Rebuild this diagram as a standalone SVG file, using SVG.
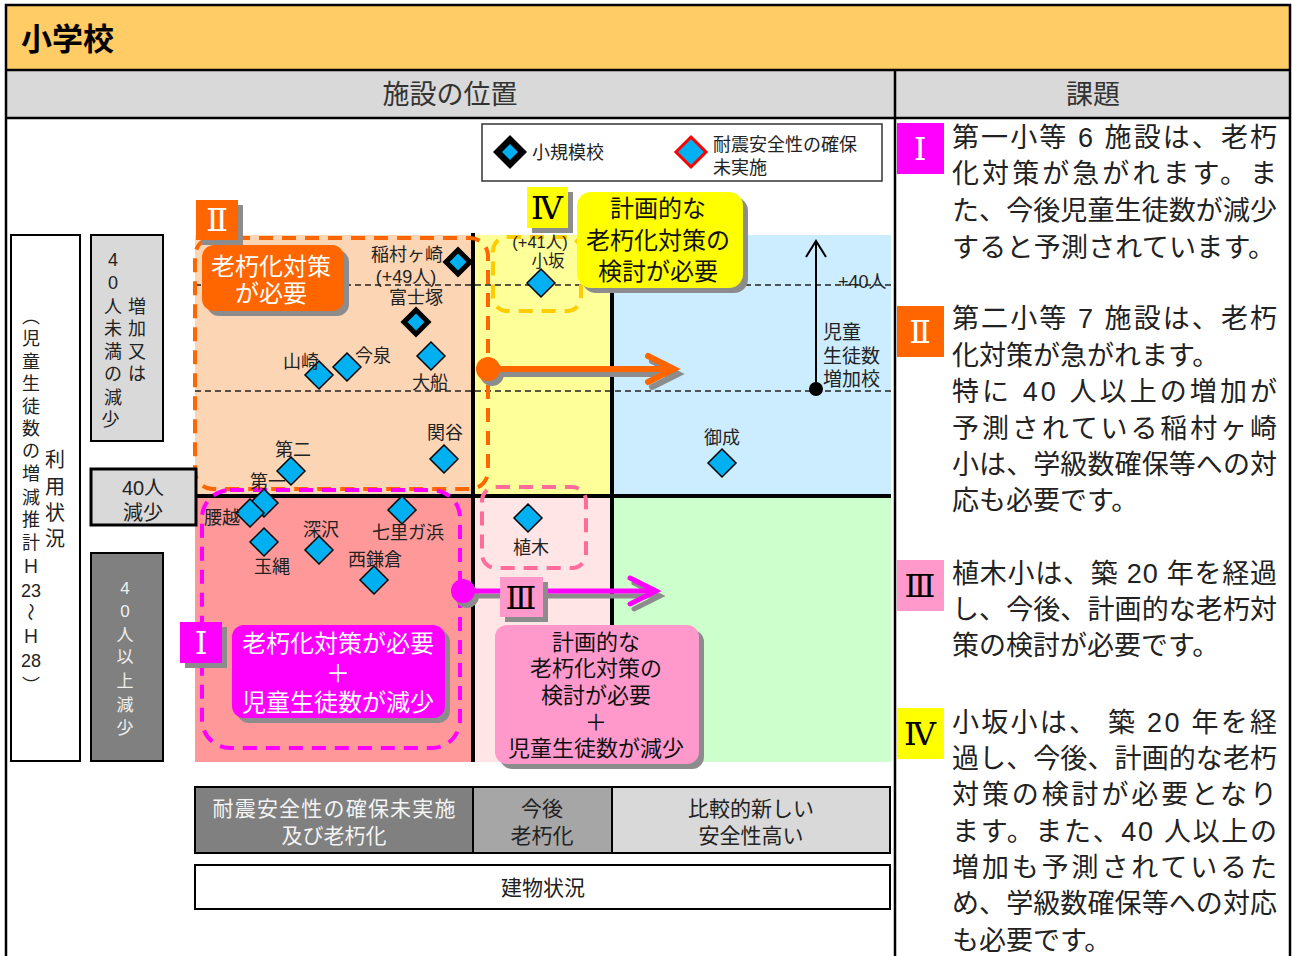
<svg xmlns="http://www.w3.org/2000/svg" width="1292" height="956" viewBox="0 0 1292 956">
<style>
.t{font-family:"Liberation Sans","Noto Sans CJK JP","Noto Sans CJK SC",sans-serif;fill:#222}
.lab{font-size:18px;text-anchor:middle}
.mid{text-anchor:middle}
.dia{fill:#00B0F0;stroke:#000;stroke-width:1.5}
.diab{fill:#00B0F0;stroke:#000;stroke-width:5}
.dash{stroke:#222;stroke-width:1.5;stroke-dasharray:6 4;fill:none}
.grid{stroke:#000;stroke-width:4}
.sh{fill:#8c8c8c}
.rn{font-family:"DejaVu Serif","Liberation Serif","Noto Sans CJK JP",serif;font-size:32px;text-anchor:middle}
.body{font-size:27px;fill:#222}
.box{stroke:#000;stroke-width:2}
</style>
<defs>
<path id="d" d="M0,-14L14,0L0,14L-14,0Z"/>
<path id="db" d="M0,-12L12,0L0,12L-12,0Z"/>
</defs>
<rect x="0" y="0" width="1292" height="956" fill="#fff"/>
<!-- header -->
<g id="header">
<rect x="6" y="5" width="1284" height="65" fill="#FFCC66"/>
<rect x="6" y="70" width="1284" height="48" fill="#D9D9D9"/>
<line x1="6" y1="70" x2="1290" y2="70" stroke="#000" stroke-width="2.5"/>
<line x1="6" y1="118" x2="1290" y2="118" stroke="#000" stroke-width="2.5"/>
<line x1="895" y1="70" x2="895" y2="956" stroke="#000" stroke-width="2.5"/>
<rect x="6" y="5" width="1284" height="960" fill="none" stroke="#000" stroke-width="2.5"/>
<text class="t" x="21" y="50" font-size="31" font-weight="bold" style="fill:#000">小学校</text>
<text class="t mid" x="450" y="104" font-size="27" style="fill:#333">施設の位置</text>
<text class="t mid" x="1093" y="104" font-size="27" style="fill:#333">課題</text>
</g>
<!-- chart regions -->
<g id="regions">
<rect x="195" y="235" width="278" height="261" fill="#FCD5B5"/>
<rect x="473" y="235" width="139" height="261" fill="#FFFF99"/>
<rect x="612" y="235" width="279" height="261" fill="#CCECFF"/>
<rect x="195" y="496" width="278" height="266" fill="#FF9999"/>
<rect x="473" y="496" width="139" height="266" fill="#FFE5E5"/>
<rect x="612" y="496" width="279" height="266" fill="#CCFFCC"/>
<line class="dash" x1="195" y1="285" x2="891" y2="285"/>
<line class="dash" x1="195" y1="391" x2="891" y2="391"/>
<line class="grid" x1="473" y1="233" x2="473" y2="762"/>
<line class="grid" x1="612" y1="235" x2="612" y2="762"/>
<line class="grid" x1="195" y1="496" x2="891" y2="496"/>
</g>
<!-- dashed groupings -->
<g id="groupings" fill="none" stroke-width="4" stroke-dasharray="14 9">
<rect x="195" y="238" width="293" height="251" rx="18" stroke="#FF6600"/>
<rect x="493" y="237" width="88" height="74" rx="14" stroke="#FFCC00"/>
<rect x="202" y="490" width="258" height="258" rx="28" stroke="#FF00FF"/>
<rect x="482" y="487" width="104" height="81" rx="14" stroke="#FF6C9C"/>
</g>
<!-- legend -->
<g id="legend">
<rect x="482" y="124" width="400" height="57" fill="#fff" stroke="#333" stroke-width="1.5"/>
<path d="M510,135L527,152L510,169L493,152Z" fill="#000"/>
<path d="M510,144L518,152L510,160L502,152Z" fill="#00B0F0"/>
<text class="t" x="532" y="159" font-size="18">小規模校</text>
<path d="M691,137L706,152L691,167L676,152Z" fill="#00B0F0" stroke="#FF0000" stroke-width="3"/>
<text class="t" x="713" y="151" font-size="18">耐震安全性の確保</text>
<text class="t" x="713" y="174" font-size="18">未実施</text>
</g>
<!-- growth arrow -->
<g id="growth-axis">
<line x1="816" y1="389" x2="816" y2="242" stroke="#000" stroke-width="2"/>
<polyline points="806,257 816,241 826,257" fill="none" stroke="#000" stroke-width="2"/>
<circle cx="816" cy="389" r="7" fill="#000"/>
<text class="t" x="838" y="288" font-size="18">+40人</text>
<text class="t" x="823" y="339" font-size="19">児童</text>
<text class="t" x="823" y="363" font-size="19">生徒数</text>
<text class="t" x="823" y="386" font-size="19">増加校</text>
</g>
<!-- schools -->
<g id="node-inamuragasaki"><use href="#db" class="diab" x="458" y="262"/><text class="t lab" x="407" y="261">稲村ヶ崎</text><text class="t lab" x="406" y="283">(+49人)</text></g>
<g id="node-fujizuka"><use href="#db" class="diab" x="416" y="322"/><text class="t lab" x="416" y="304">富士塚</text></g>
<g id="node-ofuna"><use href="#d" class="dia" x="431" y="356"/><text class="t lab" x="430" y="389">大船</text></g>
<g id="node-imaizumi"><use href="#d" class="dia" x="347" y="367"/><text class="t lab" x="373" y="362">今泉</text></g>
<g id="node-yamasaki"><use href="#d" class="dia" x="319" y="375"/><text class="t lab" x="301" y="368">山崎</text></g>
<g id="node-sekiya"><use href="#d" class="dia" x="444" y="459"/><text class="t lab" x="445" y="439">関谷</text></g>
<g id="node-daini"><use href="#d" class="dia" x="291" y="471"/><text class="t lab" x="293" y="456">第二</text></g>
<g id="node-daiichi"><text class="t lab" x="268" y="488">第一</text><use href="#d" class="dia" x="264" y="503"/></g>
<g id="node-koshigoe"><use href="#d" class="dia" x="250" y="513"/><text class="t lab" x="222" y="524">腰越</text></g>
<g id="node-tamanawa"><use href="#d" class="dia" x="264" y="542"/><text class="t lab" x="272" y="573">玉縄</text></g>
<g id="node-fukasawa"><use href="#d" class="dia" x="319" y="550"/><text class="t lab" x="321" y="536">深沢</text></g>
<g id="node-shichirigahama"><use href="#d" class="dia" x="402" y="510"/><text class="t lab" x="408" y="539">七里ガ浜</text></g>
<g id="node-nishikamakura"><use href="#d" class="dia" x="374" y="580"/><text class="t lab" x="375" y="566">西鎌倉</text></g>
<g id="node-kosaka"><use href="#d" class="dia" x="541" y="283"/><text class="t mid" x="540" y="248" font-size="16.5">(+41人)</text><text class="t mid" x="548" y="267" font-size="16.5">小坂</text></g>
<g id="node-ueki"><use href="#d" class="dia" x="528" y="518"/><text class="t lab" x="531" y="554">植木</text></g>
<g id="node-onari"><use href="#d" class="dia" x="722" y="463"/><text class="t lab" x="722" y="444">御成</text></g>
<!-- connectors -->
<g id="connectors" fill="none" stroke-linecap="round">
<line x1="492" y1="374" x2="677" y2="374" stroke="#8c8c8c" stroke-width="6"/>
<polyline points="652,361 678,374 652,387" stroke="#8c8c8c" stroke-width="6"/>
<circle cx="492" cy="374" r="12" fill="#8c8c8c" stroke="none"/>
<line x1="488" y1="369" x2="673" y2="369" stroke="#FF6600" stroke-width="6"/>
<polyline points="648,356 674,369 648,382" stroke="#FF6600" stroke-width="6"/>
<circle cx="488" cy="369" r="12" fill="#FF6600" stroke="none"/>
<line x1="467" y1="596" x2="659" y2="596" stroke="#8c8c8c" stroke-width="5"/>
<polyline points="634,583 660,596 634,609" stroke="#8c8c8c" stroke-width="5"/>
<circle cx="467" cy="596" r="12" fill="#8c8c8c" stroke="none"/>
<line x1="463" y1="591" x2="655" y2="591" stroke="#FF00FF" stroke-width="5"/>
<polyline points="630,578 656,591 630,604" stroke="#FF00FF" stroke-width="5"/>
<circle cx="463" cy="591" r="12" fill="#FF00FF" stroke="none"/>
</g>
<!-- callouts -->
<g id="callout-II">
<rect class="sh" x="207" y="250" width="142" height="66" rx="12"/>
<rect x="202" y="245" width="142" height="66" rx="12" fill="#FF6600"/>
<text class="t mid" x="271" y="275" font-size="24" style="fill:#fff">老朽化対策</text>
<text class="t mid" x="271" y="302" font-size="24" style="fill:#fff">が必要</text>
<rect class="sh" x="201" y="205" width="42" height="40"/>
<rect x="196" y="200" width="42" height="40" fill="#FF6600"/>
<text class="rn" x="217" y="231" fill="#fff">Ⅱ</text>
</g>
<g id="callout-IV">
<rect class="sh" x="582" y="197" width="166" height="96" rx="14"/>
<rect x="577" y="192" width="166" height="96" rx="14" fill="#FFFF00"/>
<text class="t mid" x="658" y="217" font-size="24" style="fill:#111">計画的な</text>
<text class="t mid" x="658" y="249" font-size="24" style="fill:#111">老朽化対策の</text>
<text class="t mid" x="658" y="280" font-size="24" style="fill:#111">検討が必要</text>
<rect class="sh" x="532" y="192" width="41" height="41"/>
<rect x="527" y="187" width="41" height="41" fill="#FFFF00"/>
<text class="rn" x="547" y="219" fill="#000">Ⅳ</text>
</g>
<g id="callout-I">
<rect class="sh" x="237" y="630" width="213" height="93" rx="12"/>
<rect x="232" y="625" width="213" height="93" rx="12" fill="#FF00FF"/>
<text class="t mid" x="338" y="652" font-size="24" style="fill:#fff">老朽化対策が必要</text>
<text class="t mid" x="338" y="682" font-size="24" style="fill:#fff">＋</text>
<text class="t mid" x="338" y="711" font-size="24" style="fill:#fff">児童生徒数が減少</text>
<rect class="sh" x="185" y="627" width="42" height="41"/>
<rect x="180" y="622" width="42" height="41" fill="#FF00FF"/>
<text class="rn" x="201" y="654" fill="#fff">Ⅰ</text>
</g>
<g id="callout-III">
<rect class="sh" x="500" y="630" width="204" height="139" rx="12"/>
<rect x="495" y="625" width="204" height="139" rx="12" fill="#FF99CC"/>
<text class="t mid" x="596" y="650" font-size="22" style="fill:#111">計画的な</text>
<text class="t mid" x="596" y="676" font-size="22" style="fill:#111">老朽化対策の</text>
<text class="t mid" x="596" y="703" font-size="22" style="fill:#111">検討が必要</text>
<text class="t mid" x="596" y="730" font-size="22" style="fill:#111">＋</text>
<text class="t mid" x="596" y="756" font-size="22" style="fill:#111">児童生徒数が減少</text>
<rect class="sh" x="505" y="582" width="43" height="40"/>
<rect x="500" y="577" width="43" height="40" fill="#FF99CC"/>
<text class="rn" x="521" y="609" fill="#000">Ⅲ</text>
</g>
<!-- vertical axis labels -->
<g id="axis-y">
<rect class="box" x="11" y="235" width="69" height="526" fill="#fff"/>
<text class="t mid" font-size="18">
<tspan x="31" y="323">︵</tspan><tspan x="31" y="345">児</tspan><tspan x="31" y="368">童</tspan><tspan x="31" y="390">生</tspan><tspan x="31" y="413">徒</tspan><tspan x="31" y="435">数</tspan><tspan x="31" y="457">の</tspan><tspan x="31" y="480">増</tspan><tspan x="31" y="504">減</tspan><tspan x="31" y="526">推</tspan><tspan x="31" y="549">計</tspan><tspan x="31" y="573">Ｈ</tspan><tspan x="31" y="597">23</tspan><tspan x="31" y="643">Ｈ</tspan><tspan x="31" y="667">28</tspan><tspan x="31" y="692">︶</tspan>
</text>
<text class="t mid" font-size="18" x="31" y="619" transform="rotate(90 31 612)">～</text>
<text class="t mid" font-size="20">
<tspan x="55" y="467">利</tspan><tspan x="55" y="494">用</tspan><tspan x="55" y="520">状</tspan><tspan x="55" y="546">況</tspan>
</text>
</g>
<g id="axis-y-upper">
<rect class="box" x="91" y="235" width="72" height="206" fill="#D9D9D9"/>
<text class="t mid" font-size="18">
<tspan x="113" y="266">4</tspan><tspan x="113" y="289">0</tspan><tspan x="113" y="313">人</tspan><tspan x="113" y="335">未</tspan><tspan x="113" y="358">満</tspan><tspan x="113" y="380">の</tspan><tspan x="113" y="404">減</tspan><tspan x="113" y="426">少</tspan>
<tspan x="137" y="313">増</tspan><tspan x="137" y="335">加</tspan><tspan x="137" y="358">又</tspan><tspan x="137" y="380">は</tspan>
</text>
</g>
<g id="axis-y-middle">
<rect x="91" y="469" width="105" height="56" fill="#D9D9D9" stroke="#000" stroke-width="3"/>
<text class="t mid" x="143" y="495" font-size="20">40人</text>
<text class="t mid" x="143" y="520" font-size="20">減少</text>
</g>
<g id="axis-y-lower">
<rect class="box" x="91" y="553" width="72" height="208" fill="#808080"/>
<text class="t mid" font-size="17" style="fill:#f0f0f0">
<tspan x="125" y="594">4</tspan><tspan x="125" y="617">0</tspan><tspan x="125" y="641">人</tspan><tspan x="125" y="663">以</tspan><tspan x="125" y="687">上</tspan><tspan x="125" y="711">減</tspan><tspan x="125" y="734">少</tspan>
</text>
</g>
<!-- x axis -->
<g id="axis-x">
<rect class="box" x="195" y="787" width="278" height="66" fill="#808080"/>
<rect class="box" x="473" y="787" width="139" height="66" fill="#A6A6A6"/>
<rect class="box" x="612" y="787" width="278" height="66" fill="#D9D9D9"/>
<text class="t mid" x="334" y="816" font-size="21" textLength="243" lengthAdjust="spacing" style="fill:#f4f4f4">耐震安全性の確保未実施</text>
<text class="t mid" x="334" y="843" font-size="21" style="fill:#f4f4f4">及び老朽化</text>
<text class="t mid" x="542" y="816" font-size="21">今後</text>
<text class="t mid" x="542" y="843" font-size="21">老朽化</text>
<text class="t mid" x="751" y="816" font-size="21">比較的新しい</text>
<text class="t mid" x="751" y="843" font-size="21">安全性高い</text>
<rect class="box" x="195" y="865" width="695" height="44" fill="#fff"/>
<text class="t mid" x="543" y="895" font-size="21">建物状況</text>
</g>
<!-- issues column -->
<g id="issue-I">
<rect x="897" y="123" width="47" height="51" fill="#FF00FF"/>
<text class="rn" x="920" y="160" fill="#fff">Ⅰ</text>
<text class="t body" x="952" y="147" textLength="325" lengthAdjust="spacing">第一小等 6 施設は、老朽</text>
<text class="t body" x="952" y="183" textLength="325" lengthAdjust="spacing">化対策が急がれます。ま</text>
<text class="t body" x="952" y="220" textLength="325" lengthAdjust="spacing">た、今後児童生徒数が減少</text>
<text class="t body" x="952" y="257" textLength="323" lengthAdjust="spacing">すると予測されています。</text>
</g>
<g id="issue-II">
<rect x="897" y="306" width="47" height="51" fill="#FF6600"/>
<text class="rn" x="920" y="343" fill="#fff">Ⅱ</text>
<text class="t body" x="952" y="328" textLength="325" lengthAdjust="spacing">第二小等 7 施設は、老朽</text>
<text class="t body" x="952" y="365">化対策が急がれます。</text>
<text class="t body" x="952" y="401" textLength="325" lengthAdjust="spacing">特に 40 人以上の増加が</text>
<text class="t body" x="952" y="438" textLength="325" lengthAdjust="spacing">予測されている稲村ヶ崎</text>
<text class="t body" x="952" y="474" textLength="325" lengthAdjust="spacing">小は、学級数確保等への対</text>
<text class="t body" x="952" y="510">応も必要です。</text>
</g>
<g id="issue-III">
<rect x="897" y="560" width="47" height="51" fill="#FF99CC"/>
<text class="rn" x="920" y="597" fill="#000">Ⅲ</text>
<text class="t body" x="952" y="583" textLength="325" lengthAdjust="spacing">植木小は、築 20 年を経過</text>
<text class="t body" x="952" y="619" textLength="325" lengthAdjust="spacing">し、今後、計画的な老朽対</text>
<text class="t body" x="952" y="655">策の検討が必要です。</text>
</g>
<g id="issue-IV">
<rect x="897" y="708" width="47" height="51" fill="#FFFF00"/>
<text class="rn" x="920" y="745" fill="#000">Ⅳ</text>
<text class="t body" x="952" y="732" textLength="325" lengthAdjust="spacing">小坂小は、 築 20 年を経</text>
<text class="t body" x="952" y="768" textLength="325" lengthAdjust="spacing">過し、今後、計画的な老朽</text>
<text class="t body" x="952" y="804" textLength="325" lengthAdjust="spacing">対策の検討が必要となり</text>
<text class="t body" x="952" y="841" textLength="325" lengthAdjust="spacing">ます。また、40 人以上の</text>
<text class="t body" x="952" y="877" textLength="325" lengthAdjust="spacing">増加も予測されているた</text>
<text class="t body" x="952" y="913" textLength="325" lengthAdjust="spacing">め、学級数確保等への対応</text>
<text class="t body" x="952" y="950">も必要です。</text>
</g>
</svg>
